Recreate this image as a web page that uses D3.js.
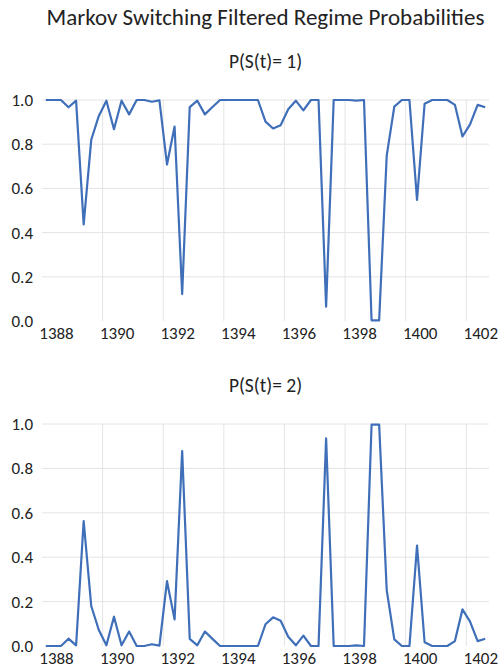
<!DOCTYPE html>
<html>
<head>
<meta charset="utf-8">
<script src="https://cdn.jsdelivr.net/npm/d3@7"></script>
<style>
body { margin: 0; background: #fff; }
text { font-family: Carlito, Calibri, Lato, sans-serif; fill: #222; }
</style>
</head>
<body>
<div id="chart"></div>
<script>
// quarterly observations 1388Q1 .. 1402Q3
var years = [1388, 1389, 1390, 1391, 1392, 1393, 1394, 1395, 1396, 1397, 1398, 1399, 1400, 1401, 1402];
var quarters = [1, 2, 3, 4];
var tickYears = [1388, 1390, 1392, 1394, 1396, 1398, 1400, 1402];
var yTicks = [0, 0.2, 0.4, 0.6, 0.8, 1.0];

var regime1 = [1.000, 1.000, 1.000, 0.967, 0.997, 0.437, 0.820, 0.928, 0.997, 0.868, 0.997, 0.935, 1.000, 1.000, 0.992, 0.998,
  0.708, 0.880, 0.122, 0.968, 0.997, 0.935, 0.968, 1.000, 1.000, 1.000, 1.000, 1.000, 1.000, 0.902, 0.871, 0.886,
  0.958, 0.997, 0.953, 1.000, 1.000, 0.065, 1.000, 1.000, 1.000, 0.997, 1.000, 0.003, 0.003, 0.748, 0.970, 1.000,
  1.000, 0.548, 0.983, 1.000, 1.000, 1.000, 0.978, 0.835, 0.890, 0.978, 0.967];
var regime2 = [0.000, 0.000, 0.000, 0.033, 0.003, 0.563, 0.180, 0.072, 0.003, 0.132, 0.003, 0.065, 0.000, 0.000, 0.008, 0.002,
  0.292, 0.120, 0.878, 0.032, 0.003, 0.065, 0.032, 0.000, 0.000, 0.000, 0.000, 0.000, 0.000, 0.098, 0.129, 0.114,
  0.042, 0.003, 0.047, 0.000, 0.000, 0.935, 0.000, 0.000, 0.000, 0.003, 0.000, 0.997, 0.997, 0.252, 0.030, 0.000,
  0.000, 0.452, 0.017, 0.000, 0.000, 0.000, 0.022, 0.165, 0.110, 0.022, 0.033];

var periods = [];
years.forEach(function(y){
  quarters.forEach(function(q){ periods.push(y + "Q" + q); });
});
periods = periods.slice(0, regime1.length);

var W = 498, H = 671;
var svg = d3.select("#chart").append("svg")
  .attr("width", W)
  .attr("height", H);

var x = d3.scaleBand()
  .domain(periods)
  .range([42, 489])
  .paddingInner(0)
  .paddingOuter(0);

svg.append("text")
  .attr("x", 265.5)
  .attr("y", 25)
  .attr("text-anchor", "middle")
  .style("font-size", "23px")
  .text("Markov Switching Filtered Regime Probabilities");

function panel(values, title, top, bottom, titleY){
  var y = d3.scaleLinear().domain([0, 1]).range([bottom, top]);
  var g = svg.append("g");

  g.append("text")
    .attr("x", 265.5)
    .attr("y", titleY)
    .attr("text-anchor", "middle")
    .style("font-size", "19.5px")
    .text(title);

  // horizontal gridlines
  g.selectAll(".hgrid")
    .data(yTicks.filter(function(d){ return d > 0; }))
    .enter().append("line")
    .attr("x1", x.range()[0])
    .attr("x2", x.range()[1])
    .attr("y1", function(d){ return y(d); })
    .attr("y2", function(d){ return y(d); })
    .attr("stroke", "#e4e4e4")
    .attr("stroke-width", 1);

  // vertical gridlines at every second year
  g.selectAll(".vgrid")
    .data(tickYears.slice(1))
    .enter().append("line")
    .attr("x1", function(d){ return x(d + "Q1"); })
    .attr("x2", function(d){ return x(d + "Q1"); })
    .attr("y1", y(1))
    .attr("y2", y(0))
    .attr("stroke", "#e4e4e4")
    .attr("stroke-width", 1);

  var yAxis = d3.axisLeft(y)
    .tickValues(yTicks)
    .tickFormat(d3.format(".1f"))
    .tickSize(0)
    .tickPadding(9);
  var ya = g.append("g")
    .attr("transform", "translate(" + x.range()[0] + ",0)")
    .call(yAxis);
  ya.select(".domain").remove();
  ya.selectAll("text")
    .style("font-size", "17px")
    .attr("fill", "#222");

  var xAxis = d3.axisBottom(x)
    .tickValues(tickYears.map(function(d){ return d + "Q1"; }))
    .tickFormat(function(d){ return d.slice(0, 4); })
    .tickSize(0)
    .tickPadding(6);
  var xa = g.append("g")
    .attr("transform", "translate(0," + bottom + ")")
    .call(xAxis);
  xa.select(".domain").remove();
  xa.selectAll(".tick")
    .attr("transform", function(d){ return "translate(" + (x(d) + 14.5) + ",0)"; });
  xa.selectAll("text")
    .style("font-size", "17px")
    .attr("fill", "#222");

  var line = d3.line()
    .x(function(d, i){ return x(periods[i]) + x.bandwidth() / 2; })
    .y(function(d){ return y(d); });

  g.append("path")
    .datum(values)
    .attr("fill", "none")
    .attr("stroke", "#3f6fb9")
    .attr("stroke-width", 2.2)
    .attr("stroke-linejoin", "round")
    .attr("d", line);
}

panel(regime1, "P(S(t)= 1)", 100, 321, 68);
panel(regime2, "P(S(t)= 2)", 424, 646, 392);
</script>
</body>
</html>
